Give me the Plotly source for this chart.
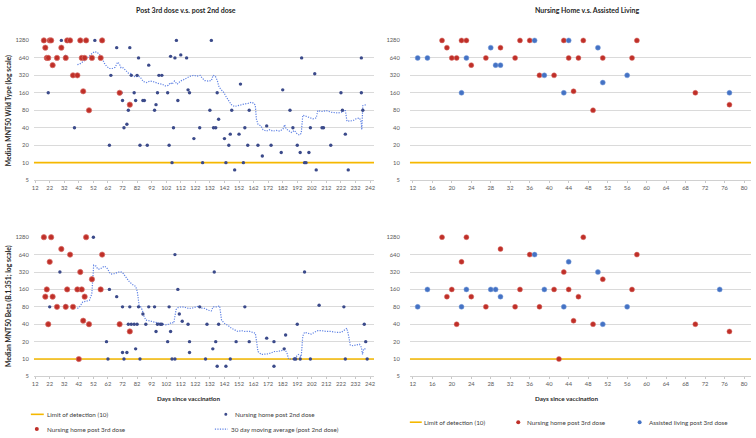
import math
import plotly.graph_objects as go

# ---------------- data ----------------
LOD = 10
y_ticks = [5, 10, 20, 40, 80, 160, 320, 640, 1280]
left_x_ticks = list(range(12, 243, 10))
right_x_ticks = list(range(12, 81, 4))

# Nursing home post 3rd dose (same people in both antigen panels)
red_days = [18, 19, 20, 21, 22, 23, 24, 27, 30, 33, 34, 36, 38, 41, 42, 43, 44, 45, 46, 47, 49, 51, 57, 58, 70, 77]
red_wt = [1280, 960, 640, 640, 1280, 1280, 480, 640, 960, 640, 1280, 1280, 320, 320, 5, 1280, 640, 170, 640, 1280, 80, 640, 640, 1280, 160, 100]
red_beta = [1280, 120, 160, 40, 480, 1280, 120, 80, 800, 80, 160, 640, 80, 160, 10, 320, 160, 46, 120, 1280, 40, 240, 160, 640, 40, 30]

# Assisted living post 3rd dose
blue_days_wt = [13, 15, 22, 23, 28, 29, 30, 37, 39, 43, 44, 50, 51, 56, 77]
blue_wt = [640, 640, 160, 640, 960, 480, 480, 1280, 320, 160, 1280, 960, 240, 320, 160]
blue_days_beta = [13, 15, 22, 23, 28, 29, 30, 37, 39, 43, 44, 50, 51, 56, 75]
blue_beta = [80, 160, 80, 160, 160, 160, 120, 640, 160, 80, 480, 320, 40, 80, 160]

# Nursing home post 2nd dose - wild type
nh2_wt_days = [13, 15, 21, 30, 33, 39, 53, 55, 61, 63, 64, 68, 71, 72, 73, 75, 76, 77, 78, 80,
               81, 82, 83, 84, 86, 87, 89, 90, 91, 94, 95, 96, 97, 99, 103, 104, 105, 106, 107, 108,
               109, 110, 112, 116, 117, 118, 121, 123, 125, 127, 128, 129, 132, 133, 134.5, 136, 137, 138, 142, 143,
               143, 145, 146, 147, 148, 149, 150, 152, 153, 155, 156, 158, 159, 163, 165, 166, 168, 171, 174, 175,
               178, 181, 182, 184, 187, 189, 190, 192, 192, 194, 195, 196, 197, 198, 200, 201, 202, 204, 205, 209,
               210, 214, 215, 220, 222, 223, 225, 226, 227, 236, 236, 237]
nh2_wt = [5, 5, 160, 1280, 680, 40, 1280, 5, 5, 20, 320, 960, 160, 118, 40, 46, 80, 960, 320, 160,
          118, 320, 640, 20, 118, 118, 20, 480, 5, 80, 100, 160, 320, 320, 160, 20, 680, 10, 40, 640,
          1280, 118, 720, 640, 180, 160, 26, 5, 40, 10, 5, 5, 80, 1280, 40, 40, 160, 56, 26, 10,
          5, 20, 31, 80, 5, 7.5, 5, 31, 226, 10, 40, 20, 80, 5, 20, 5, 13, 43, 20, 5,
          5, 15, 180, 5, 80, 40, 5, 20, 5, 15, 640, 5, 10, 10, 15, 40, 5, 340, 7.5, 40,
          40, 5, 20, 5, 160, 80, 31, 5, 7.5, 640, 160, 80]

# Nursing home post 2nd dose - Beta
nh2_beta_days = [13, 14, 22, 29, 33, 38, 52, 55, 61, 62, 63, 68, 72, 72, 73, 75, 76, 77, 78, 80,
                 81, 82, 83, 84, 86, 88, 90, 90, 92, 94, 95, 96, 98, 99, 103, 104, 105, 106, 108, 108,
                 110, 111, 113, 117, 118, 118, 121, 123, 125, 125, 128, 129, 130, 134, 135, 136, 137, 138, 139, 143,
                 144, 146, 146, 148, 150, 150, 151, 152, 154, 155, 156, 158, 159, 160, 165, 167, 168, 171, 173, 176,
                 176, 180, 183, 184, 186, 190, 191, 192, 192, 193, 194, 194, 196, 197, 197, 200, 201, 203, 205, 207,
                 208, 210, 212, 214, 217, 224, 225, 227, 228, 230, 238, 239, 240]
nh2_beta = [5, 5, 80, 320, 84, 5, 1280, 5, 20, 10, 160, 120, 80, 13, 10, 13, 40, 80, 40, 40,
            15, 40, 80, 10, 60, 40, 80, 5, 5, 80, 30, 40, 40, 40, 20, 80, 30, 10, 10, 640,
            160, 60, 45, 40, 13, 20, 5, 5, 5, 80, 5, 10, 40, 15, 320, 20, 7.5, 40, 5, 7.5,
            5, 5, 10, 5, 20, 5, 5, 5, 5, 5, 80, 5, 20, 5, 5, 5, 5, 23, 5, 7.5,
            20, 5, 15, 26, 5, 10, 10, 5, 40, 5, 10, 5, 5, 5, 320, 5, 10, 5, 5, 85,
            5, 5, 5, 5, 5, 80, 10, 5, 5, 5, 40, 20, 10]

# 30 day moving average (post 2nd dose) - wild type
ma_wt_days = [41, 42.5, 46, 48, 50.4, 52.7, 54.5, 56, 58, 59.5, 61, 63, 65, 67, 68.6, 69.7, 71, 72.5, 74.3, 76,
              77.7, 79.3, 81, 83, 84.5, 86.3, 88.4, 90.6, 93, 94.7, 97, 99.3, 101.5, 103.4, 105, 106, 107.7, 109.5, 111.8, 114,
              116.3, 118.6, 121, 123, 125.4, 126.5, 128.5, 130.8, 133, 134.2, 135.7, 137.1, 138.3, 140, 141.7, 143.3, 145, 146.7, 149, 151.3,
              153.6, 156, 158.2, 160.5, 162.3, 163.2, 163.9, 165, 167, 168.5, 170.8, 173, 175.3, 177.6, 180, 182.2, 183.3, 184.4, 186, 187.8,
              190, 192, 193.5, 194.7, 195.8, 198, 200.4, 202.7, 205, 206.1, 208.4, 212, 215.3, 217.6, 220, 222.2, 224, 225, 226.1, 228,
              230.2, 232.4, 234.7, 235.9, 236.3, 237, 239.3]
ma_wt = [490, 500, 575, 650, 740, 820, 800, 740, 630, 520, 460, 420, 420, 440, 540, 510, 430, 430, 390, 350,
         345, 310, 300, 310, 290, 250, 240, 255, 250, 240, 230, 225, 210, 215, 240, 225, 255, 225, 255, 270,
         290, 310, 320, 310, 320, 290, 260, 255, 260, 320, 310, 260, 200, 178, 160, 135, 118, 100, 93, 97,
         100, 103, 105, 110, 105, 97, 57, 46, 43, 37, 35, 37, 35, 36, 35, 38, 45, 38, 36, 33,
         36, 31, 30, 32, 66, 63, 61, 57, 59, 79, 76, 79, 74, 72, 72, 74, 79, 81, 52, 52,
         53, 57, 59, 50, 37, 96, 100]

# 30 day moving average (post 2nd dose) - Beta
ma_beta_days = [41, 42.5, 43.6, 44.7, 47, 49.3, 50.9, 51.5, 52.2, 53.8, 55, 56.5, 58, 59.5, 60.6, 61.8, 63, 64, 66.3, 68.6,
                70.2, 72, 74.3, 76.5, 78.8, 81.1, 82.2, 83.4, 84.5, 85.6, 86.8, 88, 90.2, 92.5, 94.7, 97, 99.3, 101.5, 103.8, 105.6,
                107.2, 108, 108.8, 110.2, 113, 115.2, 117.5, 119.7, 122, 124.3, 126.5, 128.5, 130.8, 133, 134.2, 136.5, 138.7, 140, 142.2, 144.5,
                146.8, 149, 151.3, 153.6, 156, 159.3, 162.3, 163.2, 164, 165, 167.3, 169.6, 172, 174.1, 176.4, 178.7, 181, 183.3, 184.4, 185.1,
                186, 187.8, 189.6, 191.2, 192.8, 194.7, 195.8, 197, 199.3, 201.6, 203.8, 206.1, 208.4, 212, 215.3, 218.7, 222.2, 224.5, 226.1, 227.3,
                228.4, 230.2, 232.5, 234.7, 236, 236.8, 237.5, 239.3]
ma_beta = [75, 80, 88, 97, 100, 104, 134, 204, 420, 405, 360, 360, 380, 405, 390, 360, 315, 295, 300, 315,
           325, 315, 260, 220, 195, 180, 145, 84, 80, 70, 55, 47, 46, 44, 43, 42, 41, 39, 40, 43,
           42, 57, 72, 78, 80, 78, 75, 76, 80, 82, 76, 75, 70, 68, 80, 80, 83, 47, 41, 38,
           34, 32, 30, 31, 30, 30, 29, 28, 20.5, 13.5, 12, 12, 12.3, 12.8, 13.5, 13.5, 14, 14.5, 13.5, 12.3,
           10, 10, 10, 11, 12, 11, 25, 29, 28, 27, 29, 31, 31, 30, 30, 29, 29, 32, 34, 25,
           17.5, 17, 17.5, 18, 16, 12, 15, 15]

# ---------------- style ----------------
W, H = 756, 438
FONT = "Lato, 'Open Sans', Arial, sans-serif"
RED = "#BF2F28"
RED_EDGE = "#D9716B"
BLUE = "#4472C4"
NAVY = "#3B4A8A"
MA_COLOR = "#5F82E4"
MA_DASH = "1.2px,1.3px"
GOLD = "#F5B800"
GRID = "#DADADA"
TICK = "#595959"

LEFT_RANGE = [11.1, 244.7]
RIGHT_RANGE = [11.39, 81.43]


def px(x):
    return x / W


def py(y):
    return 1 - y / H


fig = go.Figure()

panels = [
    ("x", "y", LEFT_RANGE, True, red_wt, None, None, nh2_wt_days, nh2_wt, ma_wt_days, ma_wt),
    ("x2", "y2", RIGHT_RANGE, False, red_wt, blue_days_wt, blue_wt, None, None, None, None),
    ("x3", "y3", LEFT_RANGE, True, red_beta, None, None, nh2_beta_days, nh2_beta, ma_beta_days, ma_beta),
    ("x4", "y4", RIGHT_RANGE, False, red_beta, blue_days_beta, blue_beta, None, None, None, None),
]

for xa, ya, xr, is_left, rvals, bdays, bvals, ndays, nvals, mdays, mvals in panels:
    fig.add_trace(go.Scatter(x=xr, y=[LOD, LOD], mode="lines", xaxis=xa, yaxis=ya,
                             line=dict(color=GOLD, width=1.6), name="Limit of detection (10)",
                             showlegend=False, hoverinfo="skip"))
    if is_left:
        fig.add_trace(go.Scatter(x=mdays, y=mvals, mode="lines", xaxis=xa, yaxis=ya,
                                 line=dict(color=MA_COLOR, width=1.2, dash=MA_DASH),
                                 name="30 day moving average (post 2nd dose)", showlegend=False))
        fig.add_trace(go.Scatter(x=ndays, y=nvals, mode="markers", xaxis=xa, yaxis=ya,
                                 marker=dict(color=NAVY, size=3.4), cliponaxis=False,
                                 name="Nursing home post 2nd dose", showlegend=False))
        fig.add_trace(go.Scatter(x=red_days, y=rvals, mode="markers", xaxis=xa, yaxis=ya,
                                 marker=dict(color=RED, size=5.3, line=dict(color=RED_EDGE, width=0.7)),
                                 cliponaxis=False, name="Nursing home post 3rd dose", showlegend=False))
    else:
        fig.add_trace(go.Scatter(x=red_days, y=rvals, mode="markers", xaxis=xa, yaxis=ya,
                                 marker=dict(color=RED, size=5.0, line=dict(color=RED_EDGE, width=0.5)),
                                 cliponaxis=False, name="Nursing home post 3rd dose", showlegend=False))
        fig.add_trace(go.Scatter(x=bdays, y=bvals, mode="markers", xaxis=xa, yaxis=ya,
                                 marker=dict(color=BLUE, size=5.0, line=dict(color="#7FA0DA", width=0.5)),
                                 cliponaxis=False, name="Assisted living post 3rd dose", showlegend=False))


def xaxis_cfg(dom, rng, ticks, anchor):
    return dict(domain=dom, range=rng, tickvals=ticks, ticktext=[str(t) for t in ticks],
                showgrid=False, zeroline=False, showline=True, linecolor="#D0D0D0", linewidth=0.8,
                ticks="outside", ticklen=2, tickcolor="#C8C8C8", tickwidth=0.8,
                tickfont=dict(family=FONT, size=5.8, color=TICK), anchor=anchor)


def yaxis_cfg(dom, anchor, standoff):
    return dict(domain=dom, type="log", range=[math.log10(5), math.log10(1280)],
                tickvals=y_ticks, ticktext=[str(t) for t in y_ticks],
                showgrid=True, gridcolor=GRID, gridwidth=0.8, zeroline=False, showline=False,
                ticks="", ticklabelstandoff=standoff,
                tickfont=dict(family=FONT, size=5.8, color=TICK), anchor=anchor)


xl = [px(32), px(374)]
xr_ = [px(410), px(753)]
yt = [py(179), py(37)]
yb = [py(378.5), py(237)]

fig.update_layout(
    width=W, height=H, margin=dict(l=0, r=0, t=0, b=0),
    paper_bgcolor="white", plot_bgcolor="white", showlegend=False,
    font=dict(family=FONT, color="#262626"),
    xaxis=xaxis_cfg(xl, LEFT_RANGE, left_x_ticks, "y"),
    yaxis=yaxis_cfg(yt, "x", 4),
    xaxis2=xaxis_cfg(xr_, RIGHT_RANGE, right_x_ticks, "y2"),
    yaxis2=yaxis_cfg(yt, "x2", 9),
    xaxis3=xaxis_cfg(xl, LEFT_RANGE, left_x_ticks, "y3"),
    yaxis3=yaxis_cfg(yb, "x3", 4),
    xaxis4=xaxis_cfg(xr_, RIGHT_RANGE, right_x_ticks, "y4"),
    yaxis4=yaxis_cfg(yb, "x4", 9),
)

ann = []


def text(x, y, s, size=6.5, bold=False, xanchor="center", angle=0, color="#262626"):
    ann.append(dict(x=px(x), y=py(y), xref="paper", yref="paper", text=("<b>%s</b>" % s) if bold else s,
                    showarrow=False, xanchor=xanchor, yanchor="middle", textangle=angle,
                    font=dict(family=FONT, size=size, color=color)))


text(185, 6, "Post 3rd dose v.s. post 2nd dose", size=7, bold=True)
text(589, 6, "Nursing Home v.s. Assisted Living", size=7, bold=True)
text(6, 108, "Median MNT50 Wild Type (log scale)", size=6.8, bold=True, angle=-90)
text(6, 307, "Median MNT50 Beta (B.1.351; log scale)", size=6.8, bold=True, angle=-90)
text(187, 401, "Days since vaccination", size=6.3, bold=True)
text(567, 401, "Days since vaccination", size=6.3, bold=True)

LEG = "#404040"
text(43, 417, "Limit of detection (10)", size=6.3, xanchor="left", color=LEG)
text(232, 417, "Nursing home post 2nd dose", size=6.3, xanchor="left", color=LEG)
text(43, 432, "Nursing home post 3rd dose", size=6.3, xanchor="left", color=LEG)
text(228, 432, "30 day moving average (post 2nd dose)", size=6.3, xanchor="left", color=LEG)
text(422, 425, "Limit of detection (10)", size=6.3, xanchor="left", color=LEG)
text(526, 425, "Nursing home post 3rd dose", size=6.3, xanchor="left", color=LEG)
text(648, 425, "Assisted living post 3rd dose", size=6.3, xanchor="left", color=LEG)

shapes = [
    dict(type="line", xref="paper", yref="paper", x0=px(29), x1=px(42), y0=py(417), y1=py(417),
         line=dict(color=GOLD, width=1.6)),
    dict(type="line", xref="paper", yref="paper", x0=px(214), x1=px(227), y0=py(432), y1=py(432),
         line=dict(color=MA_COLOR, width=1.2, dash=MA_DASH)),
    dict(type="line", xref="paper", yref="paper", x0=px(410), x1=px(422), y0=py(425), y1=py(425),
         line=dict(color=GOLD, width=1.6)),
]


def dot(x, y, d, color):
    shapes.append(dict(type="circle", xref="paper", yref="paper", xsizemode="pixel", ysizemode="pixel",
                       xanchor=px(x), yanchor=py(y), x0=-d / 2, x1=d / 2, y0=-d / 2, y1=d / 2,
                       fillcolor=color, line=dict(width=0)))


dot(225, 417, 3, NAVY)
dot(35, 432, 4, RED)
dot(519, 425, 4, RED)
dot(641, 425, 4, BLUE)

fig.update_layout(annotations=ann, shapes=shapes)
fig.write_html("out.html", config={"displayModeBar": False},
               post_script="document.body.style.margin='0px';document.body.style.padding='0px';")
